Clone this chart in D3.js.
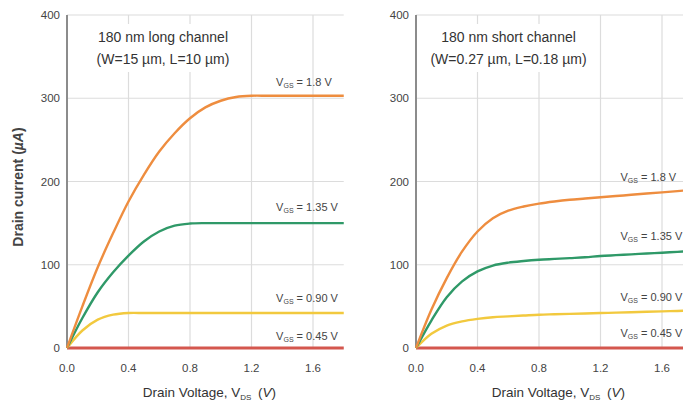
<!DOCTYPE html>
<html>
<head>
<meta charset="utf-8">
<script src="https://cdn.jsdelivr.net/npm/d3@7"></script>
<style>
  body { margin: 0; background: #fff; overflow: hidden; }
  svg { display: block; font-family: "Liberation Sans", Arial, sans-serif; }
</style>
</head>
<body>
<svg id="chart" width="683" height="402"></svg>
<script>
// drain voltage samples (V)
const vds = [0, 0.1, 0.2, 0.3, 0.4, 0.5, 0.6, 0.7, 0.8, 0.9, 1.0, 1.1, 1.2, 1.3, 1.4, 1.5, 1.6, 1.7, 1.8];

// long channel, drain current (uA)
const longVgs18  = [0, 50, 97, 138, 176, 208, 236, 258, 276, 289, 297, 301.5, 303, 303, 303, 303, 303, 303, 303];
const longVgs135 = [0, 36, 67, 91, 111, 128, 140, 147, 149.5, 150, 150, 150, 150, 150, 150, 150, 150, 150, 150];
const longVgs090 = [0, 21, 34, 40, 42, 42, 42, 42, 42, 42, 42, 42, 42, 42, 42, 42, 42, 42, 42];
const longVgs045 = [0, 0, 0, 0, 0, 0, 0, 0, 0, 0, 0, 0, 0, 0, 0, 0, 0, 0, 0];

// short channel, drain current (uA)
const shortVgs18  = [0, 46, 84, 116, 140, 156, 165, 170, 173.5, 176, 178, 179.5, 181, 182.5, 184, 185.5, 187, 188.5, 190];
const shortVgs135 = [0, 33, 61, 80, 92, 99, 102.5, 104.5, 106, 107, 108, 109, 110.5, 111.5, 112.5, 113.5, 114.5, 115.5, 116.5];
const shortVgs090 = [0, 17, 27, 32, 35, 37, 38, 39, 40, 40.5, 41, 41.5, 42, 42.5, 43, 43.5, 44, 44.5, 45];
const shortVgs045 = [0, 0, 0, 0, 0, 0, 0, 0, 0, 0, 0, 0, 0, 0, 0, 0, 0, 0, 0];

const vgsLabels = ['1.8', '1.35', '0.90', '0.45'];
const colors = ['#ee8d3f', '#2f9968', '#f2c93e', '#d4574e'];

// label anchor positions in data units [vds, current]
const longLabelPos  = [[1.36, 320], [1.36, 169], [1.36, 60], [1.36, 15]];
const shortLabelPos = [[1.33, 205], [1.33, 134], [1.33, 61], [1.33, 18]];

const xTicks = [0, 0.4, 0.8, 1.2, 1.6];
const yTicks = [0, 100, 200, 300, 400];

const panels = [
  { left: 67, title: ['180 nm long channel', '(W=15 \u00b5m, L=10 \u00b5m)'], boxX: [88, 238],
    series: [longVgs18, longVgs135, longVgs090, longVgs045], labels: longLabelPos },
  { left: 416, title: ['180 nm short channel', '(W=0.27 \u00b5m, L=0.18 \u00b5m)'], boxX: [425, 592],
    series: [shortVgs18, shortVgs135, shortVgs090, shortVgs045], labels: shortLabelPos }
];

const svg = d3.select('#chart');
const plotTop = 15, plotBottom = 348;
const y = d3.scaleLinear().domain([0, 400]).range([plotBottom, plotTop]);

panels.forEach(p => {
  const x = d3.scaleLinear().domain([0, 1.8]).range([p.left, p.left + 276.75]);
  const g = svg.append('g');

  // grid
  g.selectAll('.hg').data(yTicks).enter().append('line')
    .attr('x1', x(0)).attr('x2', x(1.8))
    .attr('y1', d => y(d)).attr('y2', d => y(d))
    .attr('stroke', '#dcdcdc').attr('stroke-width', 1.2);
  g.selectAll('.vg').data(xTicks.slice(1)).enter().append('line')
    .attr('x1', d => x(d)).attr('x2', d => x(d))
    .attr('y1', y(0)).attr('y2', y(400))
    .attr('stroke', '#dcdcdc').attr('stroke-width', 1.2);

  // title box
  g.append('rect')
    .attr('x', p.boxX[0]).attr('y', 24)
    .attr('width', p.boxX[1] - p.boxX[0]).attr('height', 48)
    .attr('fill', '#fff');
  g.selectAll('.ttl').data(p.title).enter().append('text')
    .attr('x', (p.boxX[0] + p.boxX[1]) / 2)
    .attr('y', (d, i) => 42 + i * 22)
    .attr('text-anchor', 'middle')
    .attr('font-size', 14).attr('fill', '#333')
    .text(d => d);

  // left axis line
  g.append('line')
    .attr('x1', x(0)).attr('x2', x(0))
    .attr('y1', y(0)).attr('y2', y(400))
    .attr('stroke', '#8c8c8c').attr('stroke-width', 2);

  // tick labels
  g.selectAll('.yt').data(yTicks).enter().append('text')
    .attr('x', x(0) - 7).attr('y', d => y(d) + 4)
    .attr('text-anchor', 'end').attr('font-size', 11.5).attr('fill', '#444')
    .text(d => d);
  g.selectAll('.xt').data(xTicks).enter().append('text')
    .attr('x', d => x(d)).attr('y', 372)
    .attr('text-anchor', 'middle').attr('font-size', 11.5).attr('fill', '#444')
    .text(d => d3.format('.1f')(d));

  // x axis title
  const xt = g.append('text')
    .attr('x', x(0.9) + 4).attr('y', 397)
    .attr('text-anchor', 'middle').attr('font-size', 13.5).attr('fill', '#333');
  xt.append('tspan').text('Drain Voltage, V');
  xt.append('tspan').attr('font-size', 8).attr('dy', 3).text('DS');
  xt.append('tspan').attr('dy', -3).text('\u2002(');
  xt.append('tspan').attr('font-style', 'italic').text('V');
  xt.append('tspan').text(')');

  // curves
  const line = d3.line()
    .x((d, i) => x(vds[i]))
    .y(d => y(d))
    .curve(d3.curveCatmullRom.alpha(0.5));

  const order = [3, 2, 1, 0];
  order.forEach(k => {
    g.append('path')
      .datum(p.series[k])
      .attr('fill', 'none')
      .attr('stroke', colors[k])
      .attr('stroke-width', k === 3 ? 3 : 2.4)
      .attr('d', line);
  });

  // series labels
  p.labels.forEach((pos, k) => {
    const t = g.append('text')
      .attr('x', x(pos[0])).attr('y', y(pos[1]) + 4)
      .attr('font-size', 11).attr('fill', '#444');
    t.append('tspan').text('V');
    t.append('tspan').attr('font-size', 7).attr('dy', 2).text('GS');
    t.append('tspan').attr('dy', -2).text(' = ' + vgsLabels[k] + ' V');
  });
});

// y axis title
const yt = svg.append('text')
  .attr('transform', 'translate(23,187) rotate(-90)')
  .attr('text-anchor', 'middle').attr('font-size', 14)
  .attr('font-weight', 'bold').attr('fill', '#444');
yt.append('tspan').text('Drain current (');
yt.append('tspan').attr('font-style', 'italic').text('\u00b5A');
yt.append('tspan').text(')');
</script>
</body>
</html>
